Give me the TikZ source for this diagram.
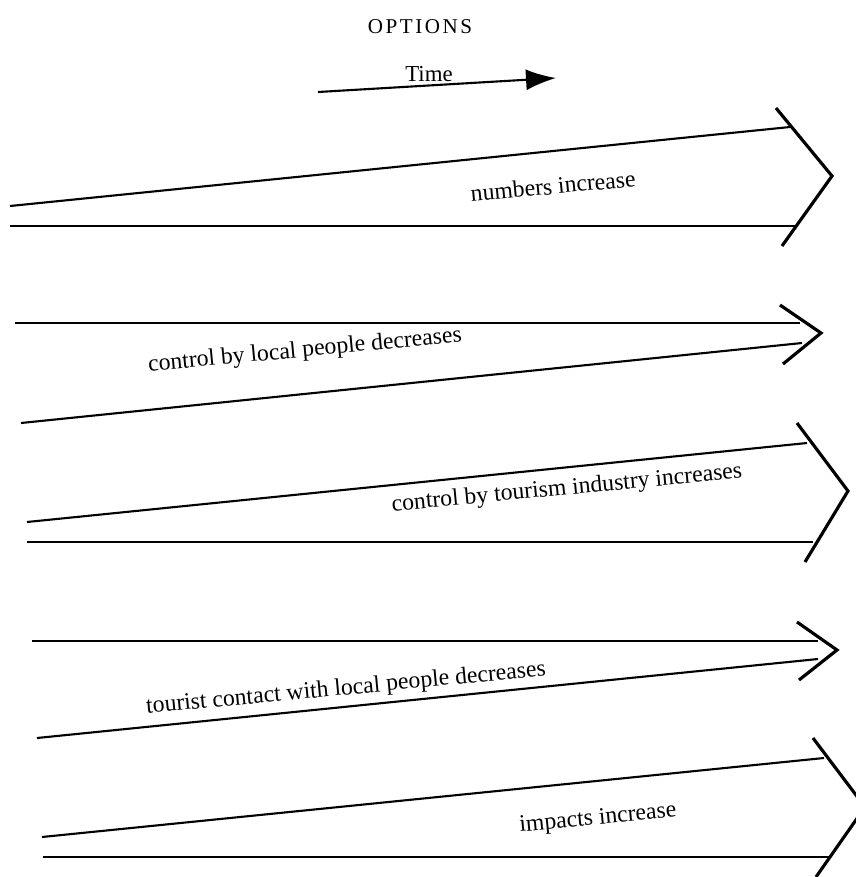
\documentclass[tikz,border=0pt]{standalone}
\usepackage{fontspec}
\setmainfont{Liberation Serif}
\usetikzlibrary{arrows.meta}

\begin{document}
\begin{tikzpicture}[x=0.02cm,y=-0.02cm,line width=1.2pt,>={Latex[length=6mm,width=4.2mm]},
  lbl/.style={font=\fontsize{13.5}{16}\selectfont,inner sep=0pt,rotate=5.4},
  head/.style={line width=1.8pt,line join=miter}]
  \useasboundingbox (0,0) rectangle (856,877);
  % titulo y flecha del tiempo
  \node (opt) at (420,27) {\fontsize{12}{14}\selectfont\addfontfeature{LetterSpace=12}OPTIONS};
  \node (time) at (429,74) {\fontsize{13}{15}\selectfont Time};
  \coordinate (t0) at (318,92); \coordinate (t1) at (556,78);
  \draw[->] (t0)--(t1);
  % 1: numbers increase
  \coordinate (a1) at (10,206); \coordinate (b1) at (790,127);
  \coordinate (c1) at (10,226); \coordinate (d1) at (795,226);
  \draw (a1)--(b1); \draw (c1)--(d1);
  \draw[head] (776,108)--(832,176)--(782,246);
  \node[lbl] (n1) at (553,186) {numbers increase};
  % 2: control by local people decreases
  \coordinate (a2) at (15,323); \coordinate (b2) at (800,323);
  \coordinate (c2) at (21,423); \coordinate (d2) at (802,343);
  \draw (a2)--(b2); \draw (c2)--(d2);
  \draw[head] (780,305)--(821,333)--(783,364);
  \node[lbl] (n2) at (305,351) {control by local people decreases};
  % 3: control by tourism industry increases
  \coordinate (a3) at (27,522); \coordinate (b3) at (807,443);
  \coordinate (c3) at (27,542); \coordinate (d3) at (813,542);
  \draw (a3)--(b3); \draw (c3)--(d3);
  \draw[head] (797,423)--(848,491)--(805,562);
  \node[lbl] (n3) at (567,489) {control by tourism industry increases};
  % 4: tourist contact with local people decreases
  \coordinate (a4) at (32,641); \coordinate (b4) at (818,641);
  \coordinate (c4) at (37,738); \coordinate (d4) at (818,659);
  \draw (a4)--(b4); \draw (c4)--(d4);
  \draw[head] (797,622)--(837,650)--(799,680);
  \node[lbl] (n4) at (346,689) {tourist contact with local people decreases};
  % 5: impacts increase
  \coordinate (a5) at (42,837); \coordinate (b5) at (824,758);
  \coordinate (c5) at (43,857); \coordinate (d5) at (830,857);
  \draw (a5)--(b5); \draw (c5)--(d5);
  \draw[head] (813,738)--(865,807)--(816,877);
  \node[lbl] (n5) at (598,819) {impacts increase};
\end{tikzpicture}
\end{document}
